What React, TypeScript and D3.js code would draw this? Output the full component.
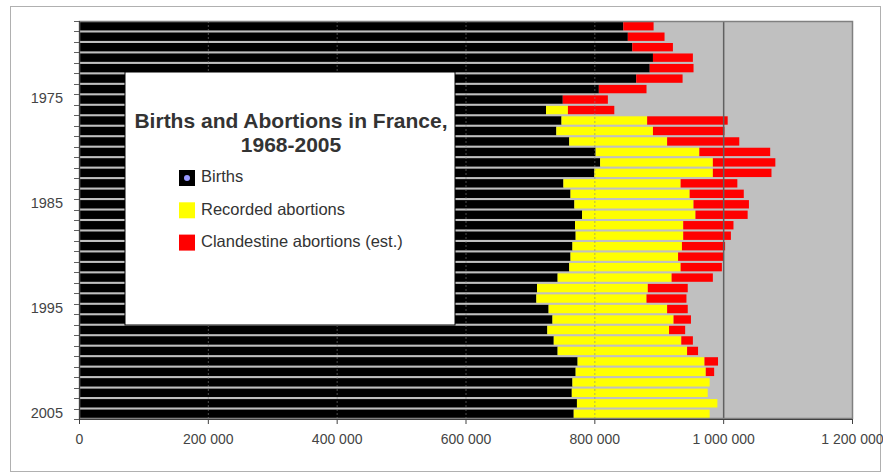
import * as d3 from "d3";
import { useEffect, useRef } from "react";

const years = d3.range(1968, 2006);
// values in thousands
const births = [845, 852, 859, 891, 886, 865, 807, 751, 725, 749, 741, 761, 802, 809, 800, 752, 763, 769, 781, 770, 771, 766, 763, 761, 743, 711, 710, 729, 735, 727, 737, 743, 774, 771, 766, 765, 773, 768];
const recorded = [0, 0, 0, 0, 0, 0, 0, 0, 34, 133, 150, 152, 161, 175, 184, 182, 185, 185, 176, 168, 167, 170, 167, 173, 177, 172, 171, 184, 188, 189, 198, 201, 197, 202, 213, 211, 218, 211];
const clandestine = [47, 57, 63, 62, 68, 72, 74, 70, 72, 125, 111, 112, 110, 97, 91, 88, 84, 86, 81, 78, 74, 67, 71, 64, 64, 62, 62, 32, 27, 25, 18, 17, 21, 13, 0, 0, 0, 0];
const xTicks = [0, 200000, 400000, 600000, 800000, 1000000, 1200000];
const yLabels = [1975, 1985, 1995, 2005];
const seriesNames = ["Births", "Recorded abortions", "Clandestine abortions (est.)"];
const colors = ["#000000", "#ffff00", "#ff0000"];

var margin = { top: 21, right: 31, bottom: 54, left: 79 };
const W = 883, H = 473;
const font = "'Liberation Sans', Arial, sans-serif";

export default function App() {
    const svgRef = useRef(null);

    useEffect(() => {
        document.body.style.margin = "0";
        const svg = d3.select(svgRef.current);
        svg.selectAll("*").remove();

        const innerW = W - margin.left - margin.right;
        const innerH = H - margin.top - margin.bottom;

        // outer chart frame
        svg.append("rect")
            .attr("x", 10.5).attr("y", 6.5)
            .attr("width", 870).attr("height", 465)
            .attr("fill", "#fff")
            .attr("stroke", "#b0b0b0");

        const x = d3.scaleLinear().domain([0, 1200000]).range([0, innerW]);
        const y = d3.scaleBand<number>().domain(years).range([0, innerH]).paddingInner(0.2).paddingOuter(0.1);

        const g = svg.append("g").attr("transform", `translate(${margin.left},${margin.top})`);

        g.append("rect")
            .attr("width", innerW).attr("height", innerH)
            .attr("fill", "#c0c0c0");

        const rows = years.map((yr, i) => ({
            year: yr,
            vals: [births[i] * 1000, recorded[i] * 1000, clandestine[i] * 1000]
        }));

        rows.forEach(r => {
            let start = 0;
            r.vals.forEach((v, k) => {
                if (v > 0) {
                    g.append("rect")
                        .attr("x", x(start))
                        .attr("y", y(r.year)!)
                        .attr("width", x(start + v) - x(start))
                        .attr("height", y.bandwidth())
                        .attr("fill", colors[k]);
                }
                start += v;
            });
        });

        // gridlines drawn over bars
        xTicks.slice(1, 5).forEach(t => {
            g.append("line")
                .attr("x1", x(t) + 0.5).attr("x2", x(t) + 0.5)
                .attr("y1", 0).attr("y2", innerH)
                .attr("stroke", "#808080")
                .attr("stroke-opacity", 0.6)
                .attr("stroke-dasharray", "2,2");
        });
        g.append("line")
            .attr("x1", x(1000000) + 0.5).attr("x2", x(1000000) + 0.5)
            .attr("y1", 0).attr("y2", innerH)
            .attr("stroke", "#606060")
            .attr("stroke-width", 1.5);

        // plot frame
        g.append("rect")
            .attr("x", 0.5).attr("y", 0.5)
            .attr("width", innerW).attr("height", innerH - 1)
            .attr("fill", "none")
            .attr("stroke", "#808080")
            .attr("stroke-width", 1.5);

        // x axis
        const xAxis = g.append("g")
            .attr("transform", `translate(0,${innerH})`)
            .call(d3.axisBottom(x).tickValues(xTicks).tickSize(5).tickPadding(10)
                .tickFormat(d => d3.format(",")(d as number).replace(/,/g, " ")));
        xAxis.select(".domain").attr("stroke", "#404040");
        xAxis.selectAll(".tick line").attr("stroke", "#404040");
        xAxis.selectAll(".tick text")
            .style("font-family", font)
            .style("font-size", "14px")
            .attr("fill", "#444");

        // y axis
        g.append("line")
            .attr("x1", 0.5).attr("x2", 0.5)
            .attr("y1", 0).attr("y2", innerH)
            .attr("stroke", "#404040");
        const step = y.step();
        d3.range(years.length + 1).forEach(i => {
            const yy = Math.round(y(years[0])! - step * y.paddingInner() / 2 + i * step) + 0.5;
            g.append("line")
                .attr("x1", -5).attr("x2", 0)
                .attr("y1", yy).attr("y2", yy)
                .attr("stroke", "#606060");
        });
        yLabels.forEach(yr => {
            g.append("text")
                .attr("x", -16)
                .attr("y", y(yr)! + y.bandwidth() / 2)
                .attr("text-anchor", "end")
                .attr("dominant-baseline", "middle")
                .style("font-family", font)
                .style("font-size", "14.5px")
                .attr("fill", "#444")
                .text(yr);
        });

        // legend box with title
        const lg = svg.append("g");
        lg.append("rect")
            .attr("x", 125).attr("y", 72)
            .attr("width", 330).attr("height", 253)
            .attr("fill", "#fff")
            .attr("stroke", "#000")
            .attr("stroke-width", 1);
        lg.append("text")
            .attr("x", 291).attr("y", 122)
            .attr("text-anchor", "middle")
            .attr("dominant-baseline", "middle")
            .style("font-family", font)
            .style("font-size", "21px")
            .style("font-weight", "bold")
            .attr("fill", "#333")
            .text("Births and Abortions in France,");
        lg.append("text")
            .attr("x", 291).attr("y", 146)
            .attr("text-anchor", "middle")
            .attr("dominant-baseline", "middle")
            .style("font-family", font)
            .style("font-size", "21px")
            .style("font-weight", "bold")
            .attr("fill", "#333")
            .text("1968-2005");

        seriesNames.forEach((name, k) => {
            const cy = 178 + k * 32.3;
            lg.append("rect")
                .attr("x", 179).attr("y", cy - 8)
                .attr("width", 16).attr("height", 16)
                .attr("fill", colors[k]);
            if (k == 0) {
                lg.append("circle")
                    .attr("cx", 187).attr("cy", cy)
                    .attr("r", 3)
                    .attr("fill", "#9a9aff");
            }
            lg.append("text")
                .attr("x", 201).attr("y", cy)
                .attr("dominant-baseline", "middle")
                .style("font-family", font)
                .style("font-size", "16.5px")
                .attr("fill", "#333")
                .text(name);
        });
    }, []);

    return (
        <svg ref={svgRef} width={W} height={H} style={{ display: "block" }}></svg>
    );
}
